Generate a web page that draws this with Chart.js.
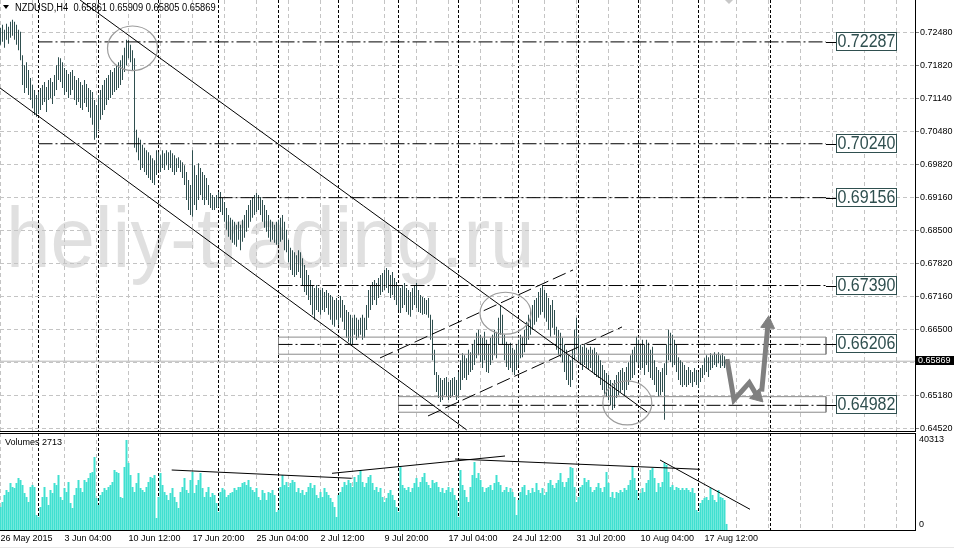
<!DOCTYPE html>
<html><head><meta charset="utf-8">
<script src="https://cdn.jsdelivr.net/npm/chart.js@4.4.1/dist/chart.umd.min.js"></script>
<style>
html,body{margin:0;padding:0;background:#fff;}
#wrap{position:relative;width:954px;height:549px;overflow:hidden;background:#fff;}
#cp{position:absolute;left:0;top:0;}
#cv{position:absolute;left:0;top:432px;}
#bl{position:absolute;left:0;top:547px;width:954px;height:1px;background:#e6e6e6;}
</style></head><body>
<div id="wrap"><canvas id="cp" width="954" height="432"></canvas><canvas id="cv" width="954" height="117"></canvas><div id="bl"></div></div>
<script>
// ---------------- DATA ----------------
const symbolLabel = 'NZDUSD,H4';
const lastQuote = ['0.65861', '0.65909', '0.65805', '0.65869'];
const currentPrice = 0.65869;
const watermarkText = 'heliy-trading.ru';
const volumeLabel = 'Volumes';

const xLabels = ['26 May 2015','3 Jun 04:00','10 Jun 12:00','17 Jun 20:00','25 Jun 04:00','2 Jul 12:00',
  '9 Jul 20:00','17 Jul 04:00','24 Jul 12:00','31 Jul 20:00','10 Aug 04:00','17 Aug 12:00'];
const xTickBars = [0,16,32,48,64,80,96,112,128,144,160,176,192,208,224,240,256,272,288,304,320,336,352,368,384,400,416,432,448];
const weekSeparatorBars = [19,49,79,109,139,169,199,229,259,289,319,349,385];
const priceTickLabels = ['0.64520','0.65180','0.65840','0.66500','0.67160','0.67820','0.68500',
  '0.69160','0.69820','0.70480','0.71140','0.71820','0.72480'];
const volTicks = [0, 40313];
const volTickLabels = ['0', '40313'];

const highs = [
0.7257,0.7263,0.7253,0.7265,0.7259,0.7269,0.7273,0.7269,0.7263,0.7253,
0.7249,0.7202,0.7182,0.7188,0.7172,0.7156,0.7142,0.7132,0.7122,0.7128,
0.7136,0.7142,0.7148,0.7138,0.7152,0.7156,0.7148,0.7162,0.7182,0.7198,
0.7196,0.7188,0.7176,0.7172,0.7164,0.7168,0.7172,0.7160,0.7152,0.7156,
0.7148,0.7142,0.7152,0.7144,0.7136,0.7132,0.7128,0.7112,0.7102,0.7122,
0.7132,0.7142,0.7152,0.7156,0.7162,0.7172,0.7168,0.7176,0.7182,0.7188,
0.7192,0.7202,0.7217,0.7233,0.7233,0.7223,0.7212,0.7196,0.7052,0.7036,
0.7032,0.7022,0.7016,0.7011,0.7007,0.7001,0.6995,0.6991,0.7011,0.7007,
0.7001,0.7011,0.7005,0.7011,0.7007,0.7011,0.7005,0.7001,0.6995,0.6997,
0.6991,0.6987,0.6981,0.6967,0.6951,0.6941,0.7011,0.6981,0.6961,0.6985,
0.6975,0.6967,0.6961,0.6955,0.6941,0.6925,0.6921,0.6917,0.6921,0.6927,
0.6927,0.6915,0.6907,0.6895,0.6881,0.6875,0.6871,0.6867,0.6861,0.6867,
0.6861,0.6871,0.6881,0.6891,0.6901,0.6911,0.6915,0.6921,0.6925,0.6921,
0.6917,0.6911,0.6901,0.6891,0.6881,0.6871,0.6867,0.6861,0.6867,0.6871,
0.6875,0.6881,0.6867,0.6851,0.6831,0.6815,0.6810,0.6806,0.6800,0.6810,
0.6806,0.6794,0.6780,0.6770,0.6760,0.6750,0.6740,0.6734,0.6740,0.6734,
0.6730,0.6734,0.6726,0.6730,0.6724,0.6720,0.6716,0.6710,0.6714,0.6710,
0.6718,0.6710,0.6700,0.6690,0.6686,0.6680,0.6674,0.6680,0.6674,0.6670,
0.6674,0.6680,0.6674,0.6700,0.6730,0.6740,0.6746,0.6750,0.6744,0.6754,
0.6760,0.6764,0.6770,0.6774,0.6770,0.6760,0.6766,0.6754,0.6746,0.6740,
0.6734,0.6740,0.6744,0.6734,0.6730,0.6726,0.6734,0.6740,0.6744,0.6730,
0.6720,0.6716,0.6714,0.6710,0.6714,0.6680,0.6670,0.6610,0.6565,0.6559,
0.6553,0.6549,0.6553,0.6555,0.6545,0.6549,0.6553,0.6555,0.6549,0.6565,
0.6589,0.6603,0.6599,0.6593,0.6610,0.6605,0.6620,0.6630,0.6644,0.6650,
0.6640,0.6634,0.6646,0.6630,0.6620,0.6634,0.6640,0.6650,0.6646,0.6674,
0.6700,0.6680,0.6640,0.6626,0.6620,0.6624,0.6614,0.6610,0.6620,0.6630,
0.6640,0.6636,0.6650,0.6666,0.6680,0.6690,0.6700,0.6710,0.6714,0.6726,
0.6734,0.6740,0.6730,0.6724,0.6714,0.6700,0.6710,0.6690,0.6656,0.6650,
0.6644,0.6634,0.6620,0.6610,0.6599,0.6589,0.6610,0.6650,0.6674,0.6640,
0.6620,0.6616,0.6620,0.6614,0.6610,0.6616,0.6610,0.6614,0.6605,0.6599,
0.6589,0.6579,0.6569,0.6563,0.6559,0.6549,0.6543,0.6549,0.6559,0.6565,
0.6569,0.6573,0.6565,0.6575,0.6585,0.6599,0.6610,0.6616,0.6636,0.6630,
0.6620,0.6630,0.6620,0.6630,0.6624,0.6610,0.6616,0.6589,0.6575,0.6569,
0.6565,0.6573,0.6583,0.6620,0.6650,0.6644,0.6640,0.6630,0.6620,0.6595,
0.6589,0.6585,0.6579,0.6569,0.6575,0.6569,0.6565,0.6573,0.6569,0.6565,
0.6573,0.6579,0.6593,0.6599,0.6595,0.6603,0.6599,0.6605,0.6601,0.6605,
0.6599,0.6603,0.6597,0.65909];

const lows = [
0.7223,0.7229,0.7217,0.7233,0.7225,0.7237,0.7241,0.7233,0.7223,0.7212,
0.7192,0.7142,0.7126,0.7136,0.7122,0.7112,0.7096,0.7082,0.7078,0.7084,
0.7092,0.7102,0.7108,0.7088,0.7112,0.7116,0.7104,0.7120,0.7132,0.7152,
0.7148,0.7136,0.7122,0.7128,0.7116,0.7122,0.7132,0.7112,0.7102,0.7108,
0.7096,0.7092,0.7106,0.7098,0.7088,0.7076,0.7062,0.7032,0.7036,0.7052,
0.7072,0.7082,0.7092,0.7102,0.7112,0.7116,0.7122,0.7128,0.7132,0.7136,
0.7142,0.7152,0.7168,0.7182,0.7196,0.7188,0.7172,0.7016,0.7007,0.6991,
0.6971,0.6975,0.6967,0.6961,0.6955,0.6951,0.6945,0.6941,0.6961,0.6971,
0.6967,0.6975,0.6971,0.6981,0.6971,0.6975,0.6967,0.6961,0.6967,0.6975,
0.6967,0.6955,0.6941,0.6911,0.6891,0.6881,0.6877,0.6901,0.6891,0.6911,
0.6921,0.6911,0.6901,0.6911,0.6901,0.6895,0.6891,0.6891,0.6895,0.6897,
0.6887,0.6881,0.6867,0.6851,0.6837,0.6831,0.6825,0.6821,0.6817,0.6831,
0.6810,0.6827,0.6835,0.6847,0.6855,0.6867,0.6875,0.6881,0.6887,0.6891,
0.6881,0.6867,0.6855,0.6847,0.6835,0.6827,0.6831,0.6825,0.6821,0.6821,
0.6827,0.6831,0.6810,0.6806,0.6786,0.6770,0.6760,0.6756,0.6760,0.6766,
0.6754,0.6740,0.6726,0.6720,0.6710,0.6700,0.6680,0.6670,0.6690,0.6686,
0.6680,0.6690,0.6686,0.6694,0.6680,0.6670,0.6660,0.6656,0.6670,0.6660,
0.6674,0.6666,0.6650,0.6634,0.6626,0.6620,0.6620,0.6640,0.6630,0.6634,
0.6640,0.6630,0.6634,0.6650,0.6674,0.6690,0.6700,0.6710,0.6700,0.6714,
0.6720,0.6726,0.6730,0.6734,0.6724,0.6714,0.6720,0.6710,0.6700,0.6690,
0.6684,0.6694,0.6700,0.6686,0.6680,0.6676,0.6690,0.6700,0.6694,0.6686,
0.6684,0.6680,0.6682,0.6680,0.6674,0.6630,0.6589,0.6559,0.6525,0.6513,
0.6505,0.6509,0.6519,0.6515,0.6509,0.6513,0.6517,0.6519,0.6509,0.6513,
0.6529,0.6549,0.6553,0.6549,0.6559,0.6565,0.6569,0.6579,0.6593,0.6599,
0.6585,0.6573,0.6589,0.6565,0.6563,0.6579,0.6589,0.6599,0.6593,0.6620,
0.6640,0.6620,0.6589,0.6575,0.6569,0.6573,0.6565,0.6559,0.6569,0.6579,
0.6593,0.6595,0.6605,0.6620,0.6630,0.6640,0.6650,0.6660,0.6666,0.6674,
0.6680,0.6686,0.6674,0.6666,0.6650,0.6636,0.6654,0.6640,0.6610,0.6599,
0.6595,0.6585,0.6565,0.6549,0.6539,0.6535,0.6549,0.6589,0.6610,0.6589,
0.6579,0.6569,0.6579,0.6573,0.6569,0.6573,0.6565,0.6559,0.6555,0.6553,
0.6539,0.6529,0.6519,0.6515,0.6509,0.6499,0.6489,0.6493,0.6513,0.6519,
0.6525,0.6529,0.6519,0.6529,0.6539,0.6549,0.6553,0.6559,0.6585,0.6579,
0.6569,0.6573,0.6559,0.6579,0.6565,0.6553,0.6549,0.6539,0.6525,0.6515,
0.6519,0.6525,0.6469,0.6559,0.6589,0.6585,0.6575,0.6579,0.6565,0.6549,
0.6539,0.6535,0.6539,0.6535,0.6539,0.6543,0.6535,0.6545,0.6539,0.6533,
0.6545,0.6553,0.6559,0.6565,0.6555,0.6569,0.6573,0.6579,0.6575,0.6583,
0.6573,0.6577,0.6573,0.65805];

const volumes = [
10300,12540,15680,17920,17020,21060,19260,18820,21060,23300,
22400,20160,16580,14780,12540,19260,20160,19260,6720,5820,
10300,14780,19260,14780,11200,17920,16580,21060,20160,24640,
14780,13440,18820,17020,21500,12100,9860,15680,18820,22400,
18820,17020,22400,21500,23300,25540,25980,32700,14340,11200,
15680,17020,18820,17920,19260,20160,21500,26880,25980,25540,
14780,14340,28220,40313,30020,24640,19260,17020,21060,25540,
18820,17920,17020,19260,21500,23740,23300,24640,5380,14780,
25540,20160,17020,15680,13440,16580,18820,14780,12540,9860,
17020,19260,23300,17920,16580,22400,25980,16580,20160,22400,
25540,18820,14780,17020,19260,14780,16580,15680,12100,8060,
17020,18820,17920,14780,15680,16580,17020,18820,17920,19260,
19260,21060,21500,20160,22400,19260,17920,17020,18820,14780,
13440,17920,16580,13440,17020,16580,17920,15680,8060,8960,
19260,24640,20160,21500,19260,21060,22400,21500,17020,18820,
16580,17920,15680,17020,19260,21060,18820,20160,15680,14340,
17020,14780,18820,17020,15680,14340,12540,10300,5820,15680,
17020,19260,21500,20160,22400,21060,19260,23740,21500,24640,
26880,21500,19260,21060,23740,24640,21060,17920,19260,17020,
18820,14780,12540,14340,16580,17920,15680,13440,10300,8060,
28220,20160,18820,17920,19260,17020,18820,21060,23300,19260,
21500,23740,25540,21500,20160,18820,22400,21060,21500,19260,
17020,18820,16580,17920,19260,17020,18820,15680,13440,5820,
26880,20160,17920,14780,12540,19260,24640,30460,23300,25540,
22400,19260,17020,18820,19260,20160,17920,21060,24640,21500,
20160,17020,17920,19260,17020,18820,17020,14780,6720,13440,
17020,19260,20160,15680,17920,16580,18820,17020,21060,17920,
16580,18820,15680,17020,21060,22400,20160,18820,21060,22400,
25540,21500,19260,21500,23300,28220,27780,19260,12540,14780,
19260,20160,23300,21500,22400,19260,17020,17920,19260,21060,
18820,17020,19260,25980,21060,14780,17020,14340,17020,16580,
17920,17020,18820,17920,20160,22400,28220,23300,17920,13440,
16580,18820,17020,21060,22400,26880,27780,23300,17020,21060,
19260,21500,30020,29120,25980,19260,20160,17920,19260,18820,
17920,18820,17920,18820,17920,17020,18820,16580,8960,8060,
12100,13440,14340,14780,13440,18820,15680,13440,12540,17920,
14780,14340,13440,2713];

// horizontal levels (price), where each starts (bar index)
const levelPrices = [0.72287, 0.70240, 0.69156, 0.67390, 0.66206, 0.64982];
const levelStartBars = [19, 19, 109, 139, 139, 199];
const levelEndBar = 412.75;
const labelBoxBars = [417.75, 447.75];
// zones (rectangles)
const zoneStartBars = [139, 199];
const zoneTops = [0.66353, 0.65156];
const zoneBottoms = [0.66009, 0.64843];
// trend channels (bar index, price)
const downChannelUpper = [{x:39.75, y:0.7313}, {x:323.25, y:0.64849}];
const downChannelLower = [{x:-0.25, y:0.71361}, {x:233.1, y:0.64487}];
const upChannelUpper = [{x:189.75, y:0.65934}, {x:286.25, y:0.67703}];
const upChannelLower = [{x:213.75, y:0.64768}, {x:310.75, y:0.66557}];
// forecast arrows
const arrowDown = [{x:363.25, y:0.65908}, {x:366.75, y:0.6509}, {x:374.4, y:0.65438}, {x:378.4, y:0.65164}];
const arrowUp = [{x:380.6, y:0.65257}, {x:383.75, y:0.66618}];
const arrowDownHead = 135, arrowUpHead = 5;
const topMarker = [{x:364.25, y:0.7315}];
// ellipses: centre (bar, price), radii (bars, price)
const ellipseBars = [66, 252.5, 313.4];
const ellipsePrices = [0.72159, 0.66833, 0.6503];
const ellipseRBars = [12.5, 12.75, 12.25];
const ellipseRPrices = [0.00448, 0.00422, 0.00442];
// volume trend lines
const volLineA = [{x:85.6, y:26875}, {x:175.6, y:23157}];
const volLineB = [{x:165.75, y:25397}, {x:252.25, y:33146}];
const volLineC = [{x:227.25, y:31802}, {x:349.75, y:27189}];
const volLineD = [{x:329.75, y:31354}, {x:374.75, y:9272}];

// ---------------- CHARTS ----------------
Chart.defaults.font.family = '"Liberation Sans", Arial, sans-serif';
Chart.defaults.color = '#000';
const X_MIN = -0.25, X_MAX = 457.25;
const P_MIN = 0.644657, P_MAX = 0.731293;
const V_MAX = 43449;
const TICK_LO = parseFloat(priceTickLabels[0]);
const TICK_HI = parseFloat(priceTickLabels[priceTickLabels.length - 1]);
const FONT = '"Liberation Sans", Arial, sans-serif';

function hiddenX(ticksArr, color, dash, border) {
  return { type:'linear', position:'bottom', min:X_MIN, max:X_MAX, offset:false,
    afterBuildTicks: s => { s.ticks = ticksArr.map(v => ({value:v})); },
    ticks:{display:false},
    grid:{color:color, drawTicks:false, offset:false, lineWidth:1},
    border:{display:border, color:'#000', dash:dash},
    afterFit: s => { s.height = 0; s.paddingLeft = 0; s.paddingRight = 0; } };
}

function lineDs(data, color, width, dash, order) {
  return {type:'line', data:data, borderColor:color, borderWidth:width, borderDash:dash || [],
    pointRadius:0, pointHoverRadius:0, fill:false, tension:0, order:order};
}

const priceDatasets = [];
priceDatasets.push({type:'line', data:arrowDown, borderColor:'#808080', borderWidth:5, fill:false, tension:0,
  pointStyle:'triangle', pointRadius:arrowDown.map((_, i) => i === arrowDown.length - 1 ? 8 : 0),
  pointRotation:arrowDown.map((_, i) => i === arrowDown.length - 1 ? arrowDownHead : 0),
  pointBackgroundColor:'#808080', pointBorderColor:'#808080', pointBorderWidth:1, order:0});
priceDatasets.push({type:'line', data:arrowUp, borderColor:'#808080', borderWidth:5, fill:false, tension:0,
  pointStyle:'triangle', pointRadius:arrowUp.map((_, i) => i === arrowUp.length - 1 ? 8 : 0),
  pointRotation:arrowUp.map((_, i) => i === arrowUp.length - 1 ? arrowUpHead : 0),
  pointBackgroundColor:'#808080', pointBorderColor:'#808080', pointBorderWidth:1, order:0});
priceDatasets.push({type:'line', data:topMarker, showLine:false, pointStyle:'rectRot', pointRadius:5,
  pointBackgroundColor:'#c8c8c8', pointBorderWidth:0, order:0});
priceDatasets.push(lineDs(downChannelUpper, '#000', 1, [], 1));
priceDatasets.push(lineDs(downChannelLower, '#000', 1, [], 1));
priceDatasets.push(lineDs(upChannelUpper, '#000', 1, [14, 5], 1));
priceDatasets.push(lineDs(upChannelLower, '#000', 1, [14, 5], 1));
levelPrices.forEach((p, k) => {
  priceDatasets.push(lineDs([{x:levelStartBars[k], y:p}, {x:levelEndBar, y:p}], '#000', 1, [14, 3, 2, 3], 2));
});
zoneTops.forEach((t, k) => {
  const b = zoneBottoms[k], x0 = zoneStartBars[k];
  priceDatasets.push(lineDs([{x:x0, y:t}, {x:levelEndBar, y:t}, {x:levelEndBar, y:b}, {x:x0, y:b}, {x:x0, y:t}], '#8a8a8a', 1, [], 3));
});
priceDatasets.push({type:'bar', data:highs.map((h, i) => ({x:i, y:[lows[i], h]})), backgroundColor:'#2F4F4F',
  barThickness:1, borderWidth:0, inflateAmount:0, order:5});
priceDatasets.push(lineDs([{x:X_MIN, y:currentPrice}, {x:X_MAX, y:currentPrice}], '#b4b4b4', 1, [], 6));

const priceExtras = {
  id:'priceExtras',
  beforeDraw(chart) {
    const ctx = chart.ctx;
    ctx.save();
    ctx.font = '85px ' + FONT;
    ctx.fillStyle = '#e0e0e0';
    ctx.textBaseline = 'alphabetic';
    ctx.translate(6, 267);
    ctx.scale(0.94, 1);
    ctx.fillText(watermarkText, 0, 0);
    ctx.restore();
  },
  afterDatasetsDraw(chart) {
    const {ctx, scales:{x, y}} = chart;
    ctx.save();
    ctx.strokeStyle = '#9c9c9c';
    ctx.lineWidth = 1.2;
    ellipseBars.forEach((b, k) => {
      const cx = x.getPixelForValue(b), cy = y.getPixelForValue(ellipsePrices[k]);
      const rx = Math.abs(x.getPixelForValue(b + ellipseRBars[k]) - cx);
      const ry = Math.abs(y.getPixelForValue(ellipsePrices[k] + ellipseRPrices[k]) - cy);
      ctx.beginPath(); ctx.ellipse(cx, cy, rx, ry, 0, 0, Math.PI * 2); ctx.stroke();
    });
    ctx.restore();
  },
  afterDraw(chart) {
    const {ctx, scales:{x, y}} = chart;
    ctx.save();
    // level labels
    const xL = Math.round(x.getPixelForValue(labelBoxBars[0]));
    const xR = Math.round(x.getPixelForValue(labelBoxBars[1]));
    const xC = x.getPixelForValue(levelEndBar);
    levelPrices.forEach(p => {
      const yy = Math.round(y.getPixelForValue(p));
      ctx.strokeStyle = '#000'; ctx.lineWidth = 1;
      ctx.beginPath(); ctx.moveTo(xC, yy + 0.5); ctx.lineTo(xL, yy + 0.5); ctx.stroke();
      ctx.fillStyle = '#fff';
      ctx.fillRect(xL, yy - 10, xR - xL, 18);
      ctx.strokeStyle = '#2F4F4F';
      ctx.strokeRect(xL + 0.5, yy - 9.5, xR - xL, 18);
      ctx.save();
      ctx.fillStyle = '#2F4F4F';
      ctx.font = '18px ' + FONT;
      ctx.textBaseline = 'middle';
      ctx.translate(xL + 1.5, yy + 0.5);
      ctx.scale(0.89, 1);
      ctx.fillText(p.toFixed(5), 0, 0);
      ctx.restore();
    });
    // current price tag
    const yc = y.getPixelForValue(currentPrice);
    ctx.fillStyle = '#000';
    ctx.fillRect(chart.chartArea.right + 1, Math.round(yc) - 5, 954 - chart.chartArea.right - 1, 9);
    ctx.fillStyle = '#fff';
    ctx.font = '9px ' + FONT;
    ctx.textBaseline = 'middle';
    ctx.fillText(currentPrice.toFixed(5), chart.chartArea.right + 3, Math.round(yc) - 0.5);
    // header
    ctx.fillStyle = '#000';
    ctx.beginPath(); ctx.moveTo(3, 5); ctx.lineTo(9, 5); ctx.lineTo(6, 9); ctx.closePath(); ctx.fill();
    ctx.font = '10px ' + FONT;
    ctx.textBaseline = 'alphabetic';
    ctx.translate(15, 11);
    ctx.scale(0.93, 1);
    ctx.fillText(symbolLabel + '  ' + lastQuote.join(' '), 0, 0);
    ctx.restore();
  }
};

new Chart(document.getElementById('cp'), {
  type:'line',
  data:{datasets:priceDatasets},
  plugins:[priceExtras],
  options:{
    responsive:false, animation:false, events:[], devicePixelRatio:1,
    layout:{autoPadding:false, padding:{left:0, right:0, top:0, bottom:1}},
    plugins:{legend:{display:false}, tooltip:{enabled:false}},
    scales:{
      x:hiddenX(xTickBars, '#c4c4c4', [4, 3], true),
      xw:hiddenX(weekSeparatorBars, '#000', [3, 2], false),
      y:{type:'linear', position:'right', min:P_MIN, max:P_MAX,
        afterBuildTicks: s => { s.ticks = priceTickLabels.map((t, k) => ({value: TICK_LO + k * (TICK_HI - TICK_LO) / (priceTickLabels.length - 1)})); },
        ticks:{autoSkip:false, padding:1, font:{size:9}, color:'#000', callback:(v, i) => priceTickLabels[i]},
        grid:{color:'#c4c4c4', drawTicks:true, tickLength:4, tickColor:'#808080', tickBorderDash:[]},
        border:{display:true, color:'#000', dash:[4, 3]},
        afterFit: s => { s.width = 39; s.paddingTop = 0; s.paddingBottom = 0; }}
    }
  }
});

const volExtras = {
  id:'volExtras',
  afterDraw(chart) {
    const ctx = chart.ctx;
    ctx.save();
    ctx.fillStyle = '#000';
    ctx.font = '9px ' + FONT;
    ctx.textBaseline = 'middle';
    ctx.fillText(volumeLabel + ' ' + volumes[volumes.length - 1], 5, 11);
    ctx.restore();
  }
};

new Chart(document.getElementById('cv'), {
  type:'line',
  data:{datasets:[
    lineDs(volLineA, '#000', 1, [], 0),
    lineDs(volLineB, '#000', 1, [], 0),
    lineDs(volLineC, '#000', 1, [], 0),
    lineDs(volLineD, '#000', 1, [], 0),
    {type:'bar', data:volumes.map((v, i) => ({x:i, y:v})), backgroundColor:'#40E0D0', barThickness:2,
      borderWidth:0, inflateAmount:0, order:2}
  ]},
  plugins:[volExtras],
  options:{
    responsive:false, animation:false, events:[], devicePixelRatio:1,
    layout:{autoPadding:false, padding:{left:0, right:0, top:1, bottom:0}},
    plugins:{legend:{display:false}, tooltip:{enabled:false}},
    scales:{
      x:{type:'linear', position:'bottom', min:X_MIN, max:X_MAX, offset:false,
        afterBuildTicks: s => { s.ticks = xTickBars.map(v => ({value:v})); },
        ticks:{display:true, autoSkip:false, maxRotation:0, minRotation:0, align:'start', padding:3,
          color:'#000', font:{size:9}, callback:(v, i) => (i % 2 === 0 && xLabels[i / 2]) ? xLabels[i / 2] : ''},
        grid:{color:'#c4c4c4', drawTicks:false, offset:false},
        border:{display:true, color:'#000', dash:[4, 3]},
        afterFit: s => { s.height = 19; s.paddingLeft = 0; s.paddingRight = 0; }},
      xw:hiddenX(weekSeparatorBars, '#000', [3, 2], false),
      xt:{type:'linear', position:'top', min:X_MIN, max:X_MAX, ticks:{display:false},
        grid:{display:false, drawTicks:false}, border:{display:true, color:'#000'},
        afterFit: s => { s.height = 0; }},
      y:{type:'linear', position:'right', min:0, max:V_MAX,
        afterBuildTicks: s => { s.ticks = volTicks.map(v => ({value:v})); },
        ticks:{autoSkip:false, padding:4, font:{size:9}, color:'#000',
          callback:(v, i) => i === 0 ? [volTickLabels[0], ''] : volTickLabels[i]},
        grid:{display:false, drawTicks:false},
        border:{display:true, color:'#000'},
        afterFit: s => { s.width = 39; s.paddingTop = 0; s.paddingBottom = 0; }}
    }
  }
});
</script></body></html>
